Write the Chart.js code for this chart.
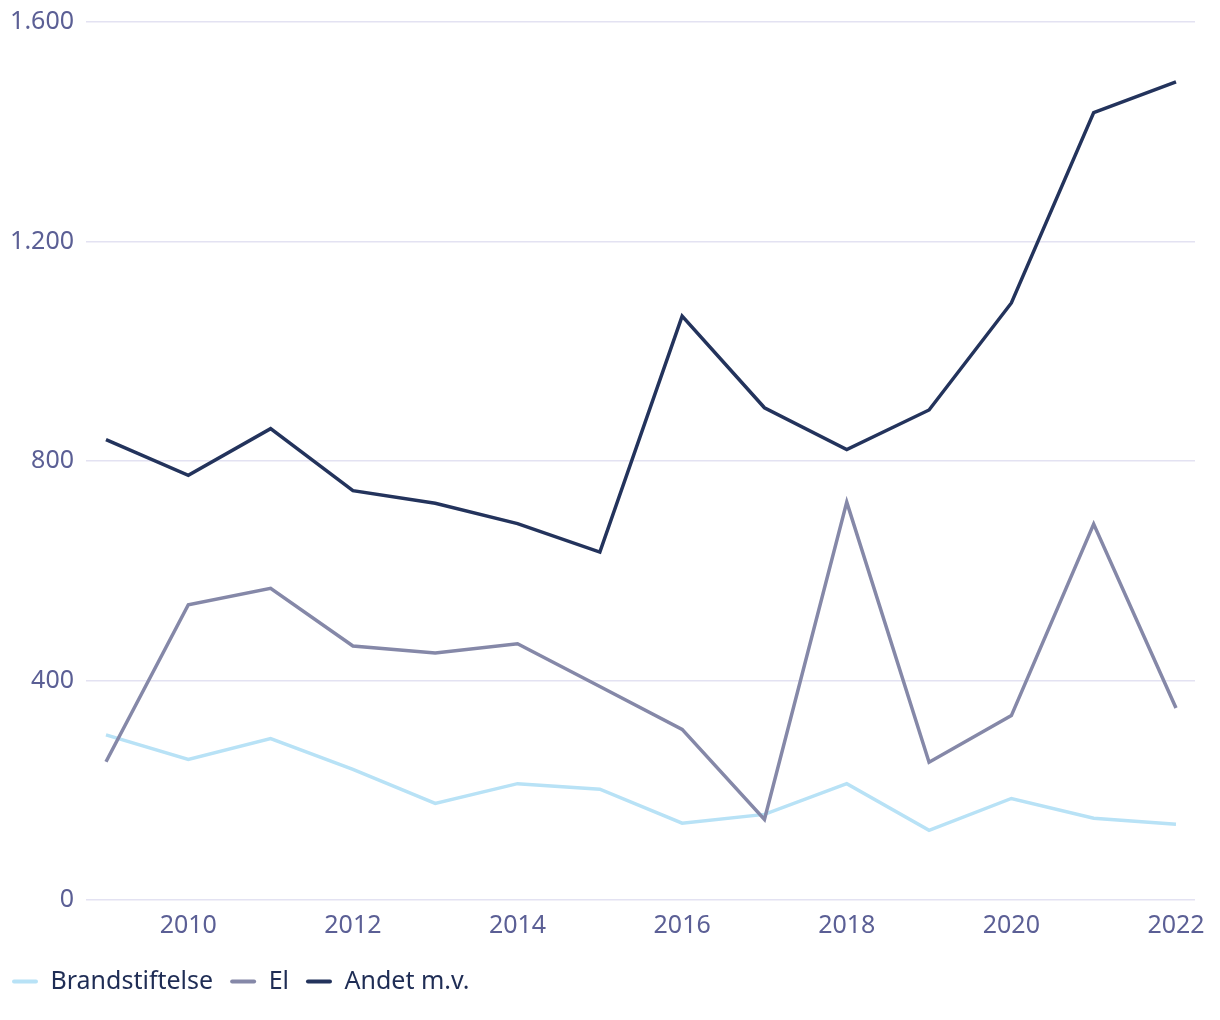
<!DOCTYPE html>
<html>
<head>
<meta charset="utf-8">
<script src="https://cdn.jsdelivr.net/npm/chart.js@4/dist/chart.umd.min.js"></script>
<style>
html,body{margin:0;padding:0;background:#fff;}
#wrap{width:1220px;height:1020px;position:relative;}
</style>
</head>
<body>
<div id="wrap"><canvas id="c" width="1220" height="1020"></canvas></div>
<script>
const years = [2009,2010,2011,2012,2013,2014,2015,2016,2017,2018,2019,2020,2021,2022];
const brandstiftelse = [301,256,294,238,176,212,202,140,156,212,127,185,149,138];
const el = [252,538,568,463,450,467,389,311,147,725,251,336,685,350];
const andet = [839,774,859,746,723,686,634,1064,897,821,893,1088,1435,1491];
const seriesNames = ['Brandstiftelse','El','Andet m.v.'];
const xTicks = [2010,2012,2014,2016,2018,2020,2022];
const yTicks = [0,400,800,1200,1600];

const FONT = '"Noto Sans", sans-serif';
const FS = 25;
const pts = arr => arr.map((v,i)=>({x:years[i], y:v}));

new Chart(document.getElementById('c'), {
  type: 'line',
  data: {
    datasets: [
      {label: seriesNames[0], data: pts(brandstiftelse), borderColor:'#b8e2f6', backgroundColor:'#b8e2f6', order:2},
      {label: seriesNames[1], data: pts(el), borderColor:'#8588a8', backgroundColor:'#8588a8', order:1},
      {label: seriesNames[2], data: pts(andet), borderColor:'#23335c', backgroundColor:'#23335c', order:0}
    ]
  },
  options: {
    responsive: false,
    animation: false,
    layout: {padding: {left: -5, right: 25, top: 22, bottom: 16}},
    elements: {
      line: {borderWidth: 3.5, tension: 0, borderJoinStyle: 'miter', fill: false},
      point: {radius: 0, hoverRadius: 0}
    },
    plugins: {
      tooltip: {enabled: false},
      legend: {
        position: 'bottom',
        align: 'start',
        labels: {
          sort: (a,b) => a.datasetIndex - b.datasetIndex,
          boxWidth: 26,
          boxHeight: 4,
          padding: 17,
          color: '#1f2d55',
          font: {family: FONT, size: FS},
          generateLabels: chart => chart.data.datasets.map((ds,i)=>({
            text: ds.label, fillStyle: ds.borderColor, strokeStyle: ds.borderColor,
            lineWidth: 0, borderRadius: 2, datasetIndex: i, hidden: false, fontColor: '#1f2d55'
          }))
        }
      }
    },
    scales: {
      x: {
        type: 'linear',
        min: 2008.757,
        max: 2022.231,
        afterBuildTicks: s => { s.ticks = xTicks.map(v=>({value:v})); },
        afterFit: s => { s.paddingLeft = 0; s.paddingRight = 0; },
        grid: {display: false, drawTicks: false},
        border: {display: false},
        ticks: {
          color: '#5b5f95',
          font: {family: FONT, size: FS, lineHeight: 0.8},
          padding: 16,
          maxRotation: 0,
          callback: v => String(v)
        }
      },
      y: {
        min: 0,
        max: 1600,
        afterBuildTicks: s => { s.ticks = yTicks.map(v=>({value:v})); },
        afterFit: s => { s.width = 91; s.paddingTop = 0; s.paddingBottom = 0; },
        grid: {color: '#e3e2f2', lineWidth: 1.5, drawTicks: false},
        border: {display: false},
        ticks: {
          color: '#5b5f95',
          font: {family: FONT, size: FS},
          padding: 12,
          callback: v => String(v).replace(/\B(?=(\d{3})+(?!\d))/g, '.')
        }
      }
    }
  }
});
</script>
</body>
</html>
